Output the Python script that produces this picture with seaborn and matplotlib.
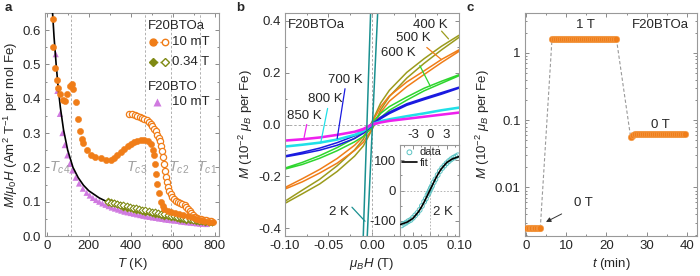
import numpy as np
import pandas as pd
import matplotlib
matplotlib.use("Agg")
import matplotlib.pyplot as plt
import seaborn as sns
from matplotlib.ticker import MultipleLocator, LogLocator, NullFormatter, FuncFormatter, FixedLocator

# ---------------- panel a data ----------------
T_zfc_10mT = [29, 32, 40, 48, 54, 63, 76, 87, 99, 110, 119, 127, 138, 149, 159, 167, 175, 190, 210, 230,
              257, 280, 305, 320, 336, 352, 368, 385, 400, 416, 432, 448, 463, 480, 495, 505, 511, 516,
              522, 527, 535, 543, 552, 559, 575, 590, 610, 630, 650, 670, 690, 710, 730, 750, 770, 790]
M_zfc_10mT = [0.632, 0.55, 0.49, 0.455, 0.43, 0.413, 0.396, 0.394, 0.413, 0.438, 0.444, 0.428, 0.39, 0.341,
              0.307, 0.283, 0.27, 0.25, 0.236, 0.23, 0.226, 0.222, 0.221, 0.226, 0.235, 0.245, 0.254, 0.262,
              0.268, 0.273, 0.277, 0.279, 0.28, 0.276, 0.268, 0.25, 0.235, 0.21, 0.182, 0.153, 0.124, 0.1,
              0.088, 0.08, 0.073, 0.07, 0.067, 0.064, 0.061, 0.058, 0.054, 0.05, 0.047, 0.044, 0.042, 0.041]
T_fc_10mT = [392, 405, 418, 430, 442, 454, 465, 476, 486, 495, 503, 511, 519, 527, 534, 540, 546, 551, 555,
             559, 563, 567, 572, 577, 583, 590, 598, 606, 616, 626, 636, 646, 656, 664, 672, 680, 688, 696,
             705, 715, 725, 735, 748, 760, 772, 784]
M_fc_10mT = [0.356, 0.355, 0.353, 0.351, 0.348, 0.345, 0.341, 0.337, 0.332, 0.327, 0.321, 0.313, 0.305,
             0.294, 0.285, 0.277, 0.263, 0.249, 0.23, 0.21, 0.19, 0.172, 0.156, 0.143, 0.132, 0.122, 0.114,
             0.108, 0.103, 0.099, 0.096, 0.093, 0.089, 0.084, 0.078, 0.072, 0.066, 0.061, 0.056, 0.053,
             0.051, 0.049, 0.047, 0.046, 0.045, 0.044]
T_034T = [290, 305, 320, 335, 350, 365, 380, 395, 410, 425, 440, 455, 470, 485, 500, 515, 530, 545, 560,
          575, 590, 605, 620, 635, 650, 665, 680, 695, 710, 725, 740, 755, 770, 785]
M_zfc_034T = [0.101, 0.098, 0.095, 0.092, 0.089, 0.086, 0.083, 0.081, 0.079, 0.077, 0.075, 0.073, 0.071,
              0.069, 0.067, 0.065, 0.063, 0.061, 0.059, 0.057, 0.056, 0.054, 0.053, 0.051, 0.05, 0.048,
              0.047, 0.046, 0.045, 0.044, 0.043, 0.042, 0.041, 0.041]
M_fc_034T = [0.098, 0.097, 0.095, 0.093, 0.091, 0.089, 0.087, 0.085, 0.083, 0.081, 0.079, 0.077, 0.075,
             0.073, 0.071, 0.069, 0.067, 0.065, 0.063, 0.061, 0.059, 0.057, 0.056, 0.054, 0.052, 0.051,
             0.049, 0.048, 0.046, 0.045, 0.044, 0.043, 0.042, 0.042]
T_bto_10mT = [43, 51, 63, 75, 86, 98, 110, 122, 138, 154, 172, 190, 205, 220, 235, 250, 265, 280, 295, 310,
              325, 340, 355, 370, 385, 400, 415, 430, 445, 460, 475, 490, 505, 520, 535, 550, 565, 580, 595,
              610, 625, 640, 655, 670, 685, 700, 715, 730, 745, 760]
M_bto_10mT = [0.53, 0.423, 0.356, 0.30, 0.265, 0.235, 0.21, 0.191, 0.17, 0.153, 0.138, 0.126, 0.118, 0.111,
              0.105, 0.100, 0.095, 0.091, 0.087, 0.083, 0.080, 0.077, 0.074, 0.071, 0.069, 0.067, 0.065,
              0.063, 0.061, 0.059, 0.057, 0.056, 0.054, 0.053, 0.051, 0.050, 0.048, 0.047, 0.046, 0.045,
              0.044, 0.042, 0.041, 0.040, 0.039, 0.038, 0.037, 0.036, 0.036, 0.035]
T_fit = [28, 35, 45, 55, 65, 80, 100, 125, 150, 175, 200, 250, 300, 350, 400, 450, 500, 550, 600, 650, 700, 765]
M_fit = [0.65, 0.58, 0.50, 0.43, 0.375, 0.31, 0.25, 0.20, 0.17, 0.148, 0.132, 0.111, 0.096, 0.085, 0.077,
         0.069, 0.062, 0.056, 0.051, 0.046, 0.042, 0.037]
Tc_values = [118, 467, 590, 729]
Tc_names = ["c4", "c3", "c2", "c1"]
Tc_label_T = [64, 428, 629, 762]

# ---------------- panel b data ----------------
H_grid = [-0.10, -0.08, -0.06, -0.04, -0.02, -0.01, 0.00, 0.01, 0.02, 0.04, 0.06, 0.08, 0.10]
loop_temps = ["400 K", "500 K", "600 K", "700 K", "800 K", "850 K"]
M_upper = {
    "400 K": [-0.296, -0.253, -0.211, -0.159, -0.098, -0.057, 0.01, 0.083, 0.132, 0.201, 0.254, 0.302, 0.344],
    "500 K": [-0.243, -0.209, -0.173, -0.131, -0.08, -0.047, 0.007, 0.069, 0.11, 0.164, 0.207, 0.251, 0.288],
    "600 K": [-0.168, -0.146, -0.12, -0.089, -0.053, -0.03, 0.006, 0.043, 0.069, 0.106, 0.14, 0.167, 0.192],
    "700 K": [-0.121, -0.107, -0.091, -0.07, -0.044, -0.026, 0.002, 0.028, 0.048, 0.08, 0.102, 0.123, 0.144],
    "800 K": [-0.083, -0.076, -0.068, -0.056, -0.038, -0.022, 0.003, 0.015, 0.022, 0.034, 0.045, 0.057, 0.067],
    "850 K": [-0.06, -0.055, -0.048, -0.038, -0.026, -0.015, 0.003, 0.01, 0.016, 0.024, 0.032, 0.04, 0.048],
}
M_lower = {
    "400 K": [-0.304, -0.267, -0.229, -0.181, -0.122, -0.083, -0.02, 0.057, 0.108, 0.179, 0.236, 0.288, 0.336],
    "500 K": [-0.249, -0.221, -0.187, -0.149, -0.1, -0.069, -0.017, 0.047, 0.09, 0.146, 0.193, 0.239, 0.282],
    "600 K": [-0.172, -0.154, -0.13, -0.101, -0.067, -0.046, -0.012, 0.027, 0.055, 0.094, 0.13, 0.159, 0.188],
    "700 K": [-0.125, -0.113, -0.099, -0.08, -0.054, -0.034, -0.006, 0.022, 0.042, 0.074, 0.096, 0.117, 0.14],
    "800 K": [-0.087, -0.08, -0.072, -0.06, -0.042, -0.028, -0.003, 0.009, 0.018, 0.03, 0.041, 0.053, 0.063],
    "850 K": [-0.064, -0.059, -0.052, -0.042, -0.03, -0.021, -0.003, 0.006, 0.012, 0.02, 0.028, 0.036, 0.044],
}
loop_colors = {"400 K": "#9b9b1c", "500 K": "#f07d18", "600 K": "#2ed62e",
               "700 K": "#1a1ae0", "800 K": "#20e0e8", "850 K": "#ee20ee"}
H_2K_a = [-0.0107, -0.0009]
H_2K_b = [-0.0064, 0.0075]
M_2K = [-0.5, 0.5]
# inset (2 K, wide field range)
H_in_fit = [-5.2, -4, -3, -2, -1.5, -1, -0.5, 0, 0.5, 1, 1.5, 2, 3, 4, 5.2]
M_in_fit = [-112, -104, -92, -70, -55, -38, -19, 0, 19, 38, 55, 70, 92, 104, 112]
H_in_data = [-5.0, -4.6, -4.2, -3.8, -3.4, -3.0, -2.6, -2.2, -1.8, -1.4, -1.0, -0.7, -0.4, -0.2, 0.0,
             0.2, 0.4, 0.7, 1.0, 1.4, 1.8, 2.2, 2.6, 3.0, 3.4, 3.8, 4.2, 4.6, 5.0]
M_in_data = [-115, -110, -106, -101, -97, -90, -82, -74, -64, -51, -37, -27, -15, -8, 0,
             8, 15, 27, 37, 51, 64, 74, 82, 90, 97, 103, 108, 112, 116]

# ---------------- panel c data ----------------
t_seg1 = [0.4, 0.8, 1.2, 1.6, 2.0, 2.4, 2.8, 3.2, 3.6]
M_seg1 = [0.0025, 0.0025, 0.0025, 0.0025, 0.0025, 0.0025, 0.0025, 0.0025, 0.0025]
t_seg2 = [6.5, 7.0, 7.5, 8.0, 8.5, 9.0, 9.5, 10.0, 10.5, 11.0, 11.5, 12.0, 12.5, 13.0, 13.5, 14.0, 14.5,
          15.0, 15.5, 16.0, 16.5, 17.0, 17.5, 18.0, 18.5, 19.0, 19.5, 20.0, 20.5, 21.0, 21.5, 22.0, 22.5]
M_seg2 = [1.6] * 33
t_seg3 = [26.0, 26.5, 27.0, 27.5, 28.0, 28.5, 29.0, 29.5, 30.0, 30.5, 31.0, 31.5, 32.0, 32.5, 33.0, 33.5,
          34.0, 34.5, 35.0, 35.5, 36.0, 36.5, 37.0, 37.5, 38.0, 38.5, 39.0, 39.5]
M_seg3 = [0.057, 0.061, 0.062, 0.062, 0.062, 0.062, 0.062, 0.062, 0.062, 0.062, 0.062, 0.062, 0.062, 0.062,
          0.062, 0.062, 0.062, 0.062, 0.062, 0.062, 0.062, 0.062, 0.062, 0.062, 0.062, 0.062, 0.062, 0.062]

# ---------------- style ----------------
sns.set_theme(style="ticks")
plt.rcParams["font.family"] = ["Liberation Sans", "DejaVu Sans"]
plt.rcParams["mathtext.fontset"] = "custom"
plt.rcParams["mathtext.rm"] = "Liberation Sans"
plt.rcParams["mathtext.it"] = "Liberation Sans:italic"
plt.rcParams["mathtext.bf"] = "Liberation Sans:bold"
plt.rcParams["axes.unicode_minus"] = False
FS = 9.5
ORANGE = "#f07d18"
OLIVE = "#7f8a14"
VIOLET = "#d07ae0"


def style(ax):
    ax.tick_params(which="both", direction="in", top=True, right=True, color="#777777",
                   labelsize=FS, width=0.6, pad=3)
    ax.tick_params(which="major", length=3)
    ax.tick_params(which="minor", length=1.7)
    for s in ax.spines.values():
        s.set_color("#999999")
        s.set_linewidth(0.8)


fig = plt.figure(figsize=(7, 2.76), dpi=100)
H0 = 0.808
B0 = 0.1449
axa = fig.add_axes([0.0643, B0, 0.2486, H0])
axb = fig.add_axes([0.4071, B0, 0.2486, H0])
axc = fig.add_axes([0.75, B0, 0.2457, H0])

# ---------------- panel a ----------------
ax = axa
for tc in Tc_values:
    ax.axvline(tc, color="#b0b0b0", lw=0.7, ls=(0, (2.5, 2)), zorder=1)
for name, tx in zip(Tc_names, Tc_label_T):
    ax.text(tx, 0.2, r"$T_{%s}$" % name, color="#a0a0a0", fontsize=10.5, ha="center", va="center")
sns.lineplot(x=T_fit, y=M_fit, color="black", lw=1.2, ax=ax, zorder=3)
sns.scatterplot(x=T_bto_10mT, y=M_bto_10mT, marker="^", s=20, color=VIOLET, edgecolor="none", ax=ax, zorder=2)
sns.scatterplot(x=T_034T, y=M_zfc_034T, marker="D", s=14, color=OLIVE, edgecolor=OLIVE, ax=ax, zorder=4)
sns.scatterplot(x=T_034T, y=M_fc_034T, marker="D", s=12, color="white", edgecolor=OLIVE, linewidth=0.8,
                ax=ax, zorder=4)
sns.scatterplot(x=T_fc_10mT, y=M_fc_10mT, marker="o", s=20, color="white", edgecolor=ORANGE, linewidth=0.9,
                ax=ax, zorder=5)
sns.scatterplot(x=T_zfc_10mT, y=M_zfc_10mT, marker="o", s=20, color=ORANGE, edgecolor=ORANGE, ax=ax, zorder=5)
ax.set_xlim(-8, 820)
ax.set_ylim(0, 0.65)
ax.xaxis.set_major_locator(MultipleLocator(200))
ax.xaxis.set_minor_locator(MultipleLocator(100))
ax.yaxis.set_major_locator(MultipleLocator(0.1))
ax.yaxis.set_minor_locator(MultipleLocator(0.05))
ax.yaxis.set_major_formatter(FuncFormatter(lambda v, p: f"{v:.1f}"))
ax.set_xlabel(r"$T$ (K)", fontsize=FS, labelpad=3)
ax.set_ylabel(r"$M/\mu_0H$ (Am$^2$ T$^{-1}$ per mol Fe)", fontsize=FS, labelpad=2)
style(ax)
# legend (manual)
tr = ax.transAxes
ax.text(0.592, 0.942, "F20BTOa", transform=tr, fontsize=FS, ha="left", va="center")
ax.plot([0.621, 0.69], [0.870, 0.870], transform=tr, color=ORANGE, ls=(0, (1, 1.5)), lw=1)
ax.plot([0.621], [0.870], transform=tr, marker="o", ms=5, color=ORANGE, mec=ORANGE)
ax.plot([0.69], [0.870], transform=tr, marker="o", ms=4.6, mfc="white", mec=ORANGE, mew=1)
ax.text(0.731, 0.870, "10 mT", transform=tr, fontsize=FS, ha="left", va="center")
ax.plot([0.621, 0.69], [0.782, 0.782], transform=tr, color=OLIVE, ls=(0, (1, 1.5)), lw=1)
ax.plot([0.621], [0.782], transform=tr, marker="D", ms=3.8, color=OLIVE, mec=OLIVE)
ax.plot([0.69], [0.782], transform=tr, marker="D", ms=3.8, mfc="white", mec=OLIVE, mew=1)
ax.text(0.731, 0.782, "0.34 T", transform=tr, fontsize=FS, ha="left", va="center")
ax.text(0.592, 0.666, "F20BTO", transform=tr, fontsize=FS, ha="left", va="center")
ax.plot([0.644], [0.60], transform=tr, marker="^", ms=5.5, color=VIOLET, mec="none")
ax.text(0.731, 0.60, "10 mT", transform=tr, fontsize=FS, ha="left", va="center")

# ---------------- panel b ----------------
ax = axb
ax.axhline(0, color="#aaaaaa", lw=0.7, ls=(0, (2.5, 2)), zorder=1)
ax.axvline(0, color="#aaaaaa", lw=0.7, ls=(0, (2.5, 2)), zorder=1)
for lab in loop_temps:
    H_loop = list(reversed(H_grid)) + H_grid
    M_loop = list(reversed(M_upper[lab])) + M_lower[lab]
    sns.lineplot(x=H_loop, y=M_loop, sort=False, estimator=None, color=loop_colors[lab], lw=1.1, ax=ax, zorder=2)
sns.lineplot(x=H_2K_a, y=M_2K, sort=False, estimator=None, color="#1a9090", lw=1.1, ax=ax, zorder=2)
sns.lineplot(x=H_2K_b, y=M_2K, sort=False, estimator=None, color="#1a9090", lw=1.1, ax=ax, zorder=2)
ax.set_xlim(-0.1, 0.1)
ax.set_ylim(-0.43, 0.43)
ax.xaxis.set_major_locator(MultipleLocator(0.05))
ax.xaxis.set_minor_locator(MultipleLocator(0.025))
ax.yaxis.set_major_locator(MultipleLocator(0.2))
ax.yaxis.set_minor_locator(MultipleLocator(0.1))
ax.xaxis.set_major_formatter(FuncFormatter(lambda v, p: f"{v:.2f}"))
ax.yaxis.set_major_formatter(FuncFormatter(lambda v, p: f"{v:.1f}"))
ax.set_xlabel(r"$\mu_BH$ (T)", fontsize=FS, labelpad=3)
ax.set_ylabel(r"$M$ (10$^{-2}$ $\mu_B$ per Fe)", fontsize=FS, labelpad=2)
style(ax)
tr = ax.transAxes
ax.text(0.179, 0.946, "F20BTOa", transform=tr, fontsize=FS, ha="center", va="center")
lab_pos = {"400 K": (0.833, 0.946), "500 K": (0.736, 0.888), "600 K": (0.651, 0.821),
           "700 K": (0.345, 0.70), "800 K": (0.23, 0.614), "850 K": (0.11, 0.538)}
for lab, (x, y) in lab_pos.items():
    ax.text(x, y, lab, transform=tr, fontsize=FS, ha="center", va="center")
pointers = {"400 K": ([0.080, 0.088], [0.36, 0.33]), "500 K": ([0.063, 0.080], [0.297, 0.25]),
            "600 K": ([0.055, 0.067], [0.227, 0.148]), "700 K": ([-0.031, -0.040], [0.138, -0.054]),
            "800 K": ([-0.051, -0.059], [0.062, -0.072]), "850 K": ([-0.075, -0.078], [0.0, -0.05])}
for lab, (xs, ys) in pointers.items():
    ax.plot(xs, ys, color=loop_colors[lab], lw=0.9, zorder=3)
ax.text(0.31, 0.108, "2 K", transform=tr, fontsize=FS, ha="center", va="center")
ax.plot([-0.023, -0.008], [-0.319, -0.373], color="#1a9090", lw=0.9)

# inset
axi = fig.add_axes([0.5714, B0, 0.0843, 0.3297])
axi.set_facecolor("white")
axi.axhline(0, color="#aaaaaa", lw=0.6, ls=(0, (2, 2)), zorder=1)
axi.axvline(0, color="#aaaaaa", lw=0.6, ls=(0, (2, 2)), zorder=1)
sns.scatterplot(x=H_in_data, y=M_in_data, marker="o", s=12, color="none", edgecolor="#5cc4c4",
                linewidth=0.7, ax=axi, zorder=2, label="data")
sns.lineplot(x=H_in_fit, y=M_in_fit, color="black", lw=1.2, ax=axi, zorder=3, label="fit")
axi.set_xlim(-5.3, 5.2)
axi.set_ylim(-150, 150)
axi.xaxis.set_major_locator(FixedLocator([-3, 0, 3]))
axi.yaxis.set_major_locator(FixedLocator([-100, 0, 100]))
axi.xaxis.set_minor_locator(FixedLocator([-4.5, -1.5, 1.5, 4.5]))
axi.yaxis.set_minor_locator(FixedLocator([-50, 50]))
style(axi)
axi.tick_params(labeltop=True, labelbottom=False)
axi.set_xlabel("")
axi.set_ylabel("")
axi.text(0.73, 0.264, "2 K", transform=axi.transAxes, fontsize=FS, ha="center", va="center")
leg = axi.legend(loc="upper left", frameon=False, fontsize=8, handlelength=1.3, handletextpad=0.3,
                 borderaxespad=0.1, borderpad=0.1, labelspacing=0.05, markerscale=1.0)

# ---------------- panel c ----------------
ax = axc
ax.plot([t_seg1[-1], t_seg2[0]], [M_seg1[-1], M_seg2[0]], color="#999999", lw=0.8, ls=(0, (3, 2)), zorder=1)
ax.plot([t_seg2[-1], t_seg3[0]], [M_seg2[-1], M_seg3[0]], color="#999999", lw=0.8, ls=(0, (3, 2)), zorder=1)
for tt, mm in [(t_seg1, M_seg1), (t_seg2, M_seg2), (t_seg3, M_seg3)]:
    sns.scatterplot(x=tt, y=mm, marker="o", s=22, color=ORANGE, edgecolor="#f3a050", linewidth=0.4,
                    ax=ax, zorder=3)
ax.set_yscale("log")
ax.set_xlim(-0.2, 42.5)
ax.set_ylim(0.0019, 3.9)
ax.xaxis.set_major_locator(MultipleLocator(10))
ax.xaxis.set_minor_locator(MultipleLocator(5))
ax.yaxis.set_major_locator(LogLocator(base=10))
ax.yaxis.set_minor_locator(LogLocator(base=10, subs=np.arange(2, 10)))
ax.yaxis.set_minor_formatter(NullFormatter())
ax.yaxis.set_major_formatter(FuncFormatter(lambda v, p: f"{v:g}"))
ax.set_xlabel(r"$t$ (min)", fontsize=FS, labelpad=3)
ax.set_ylabel(r"$M$ (10$^{-2}$ $\mu_B$ per Fe)", fontsize=FS, labelpad=2)
style(ax)
tr = ax.transAxes
ax.text(0.349, 0.946, "1 T", transform=tr, fontsize=FS, ha="center", va="center")
ax.text(0.785, 0.946, "F20BTOa", transform=tr, fontsize=FS, ha="center", va="center")
ax.text(0.785, 0.498, "0 T", transform=tr, fontsize=FS, ha="center", va="center")
ax.annotate("0 T", xy=(0.122, 0.063), xytext=(0.337, 0.148), xycoords=tr, textcoords=tr,
            fontsize=FS, ha="center", va="center",
            arrowprops=dict(arrowstyle="-|>", mutation_scale=7, color="#333333", lw=0.7,
                            shrinkA=7, shrinkB=0))

# panel letters
fig.text(0.006, 0.972, "a", fontsize=9.5, fontweight="bold", ha="left", va="center")
fig.text(0.337, 0.972, "b", fontsize=9.5, fontweight="bold", ha="left", va="center")
fig.text(0.666, 0.972, "c", fontsize=9.5, fontweight="bold", ha="left", va="center")

fig.savefig("out.png", dpi=100)
